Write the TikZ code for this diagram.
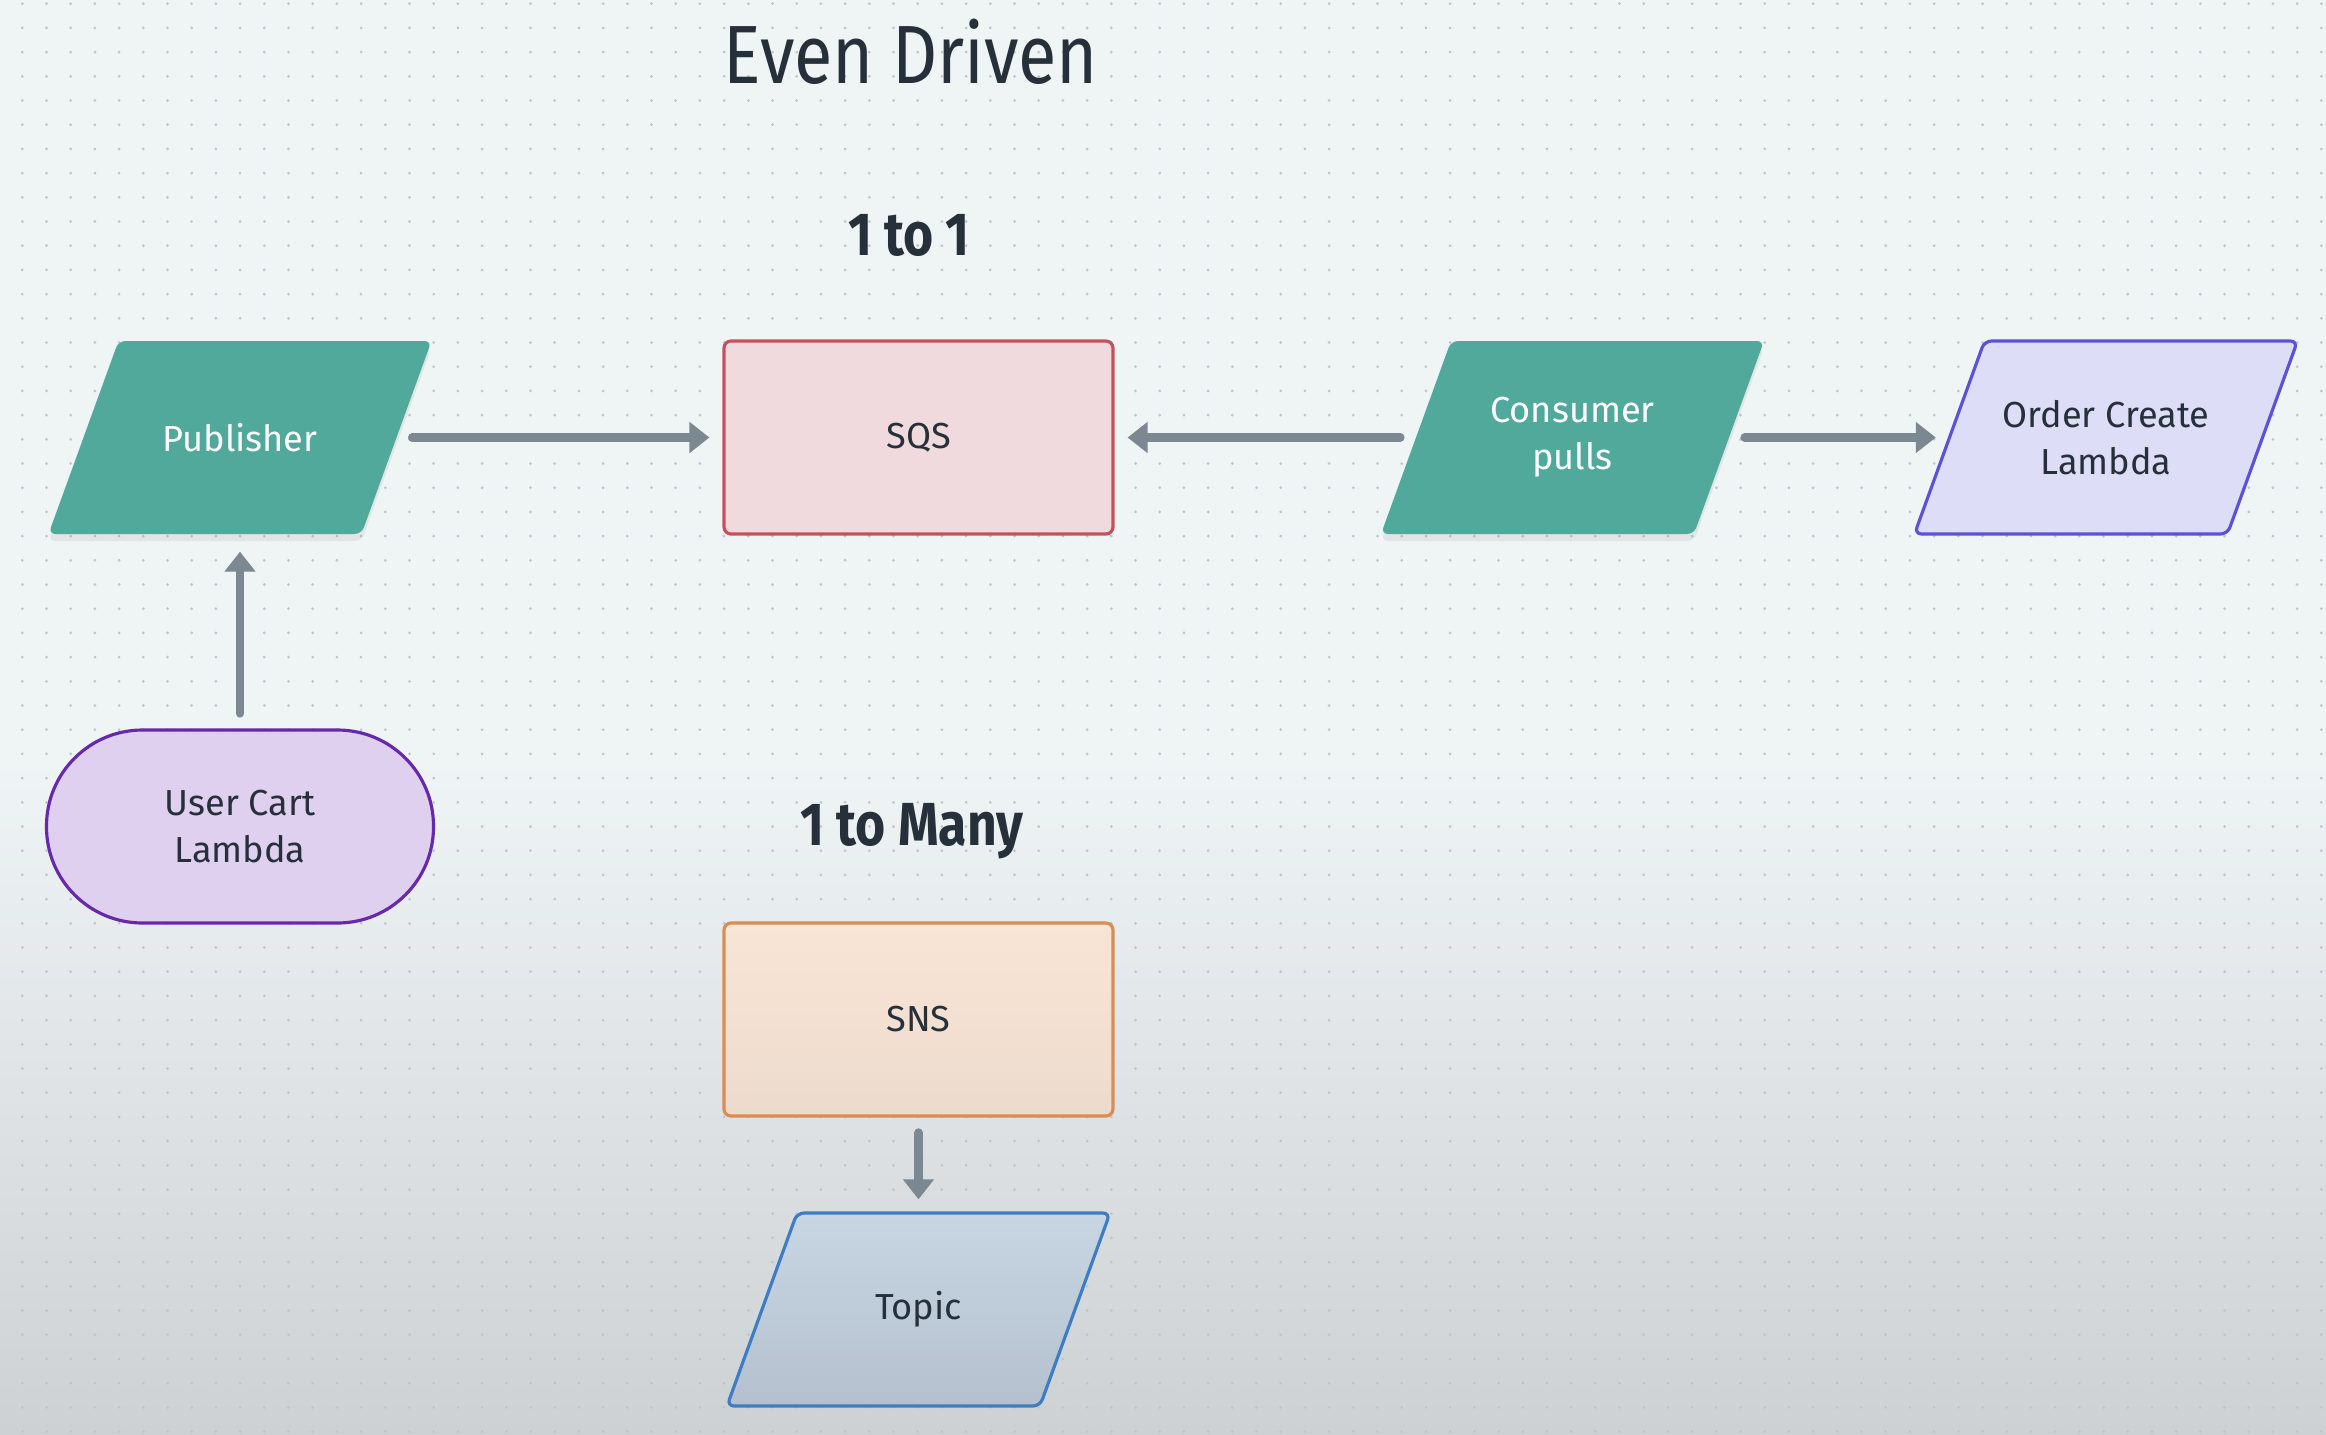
\documentclass[tikz,border=0pt]{standalone}
\usepackage{fontspec}
\setmainfont{Fira Sans}
\newfontfamily\headfont{Fira Sans}[FakeStretch=0.85]
\usetikzlibrary{arrows.meta,shadows}

% 颜色
\definecolor{bgtop}{RGB}{239,244,245}
\definecolor{bgbot}{RGB}{206,209,212}
\definecolor{dotc}{RGB}{190,195,205}
\definecolor{txt}{RGB}{38,48,58}
\definecolor{tealbox}{RGB}{80,169,155}
\definecolor{arrowgray}{RGB}{123,135,145}
\definecolor{sqsfill}{RGB}{240,218,221}
\definecolor{sqsline}{RGB}{200,80,92}
\definecolor{ordfill}{RGB}{222,221,248}
\definecolor{ordline}{RGB}{92,82,214}
\definecolor{cartfill}{RGB}{224,208,240}
\definecolor{cartline}{RGB}{102,40,172}
\definecolor{snstop}{RGB}{249,229,214}
\definecolor{snsbot}{RGB}{236,219,205}
\definecolor{snsline}{RGB}{218,140,82}
\definecolor{toptop}{RGB}{200,214,228}
\definecolor{topbot}{RGB}{180,192,206}
\definecolor{topline}{RGB}{60,125,195}

% 平行四边形 (#1 中心, #2 样式)
\newcommand{\parashape}[2]{%
    \path[#2, rounded corners=2pt, shift={(#1)}]
        (-1.915,-0.965) -- (1.215,-0.965) -- (1.915,0.965) -- (-1.215,0.965) -- cycle;}

\begin{document}
\begin{tikzpicture}[
    para/.style={rectangle, minimum width=3.13cm, minimum height=1.93cm,
        align=center, text=txt, font=\fontsize{10.3}{13.4}\selectfont},
    box/.style={rectangle, minimum width=3.89cm, minimum height=1.93cm,
        rounded corners=2pt, line width=0.9pt, text=txt,
        font=\fontsize{10.3}{13.4}\selectfont},
    shadowed/.style={drop shadow={shadow xshift=0pt, shadow yshift=-2pt, opacity=0.12}},
    conn/.style={draw=arrowgray, line width=0.085cm, line cap=round,
        -{Triangle[length=0.2cm, width=0.3cm]},
        shorten <=0.15cm, shorten >=0.13cm}
]
    % 背景和点阵
    \useasboundingbox (0,0) rectangle (23.26,-14.34);
    \fill[bgtop] (0,0) rectangle (23.26,-14.34);
    \shade[top color=bgtop, bottom color=bgbot] (0,-7.6) rectangle (23.26,-14.34);
    \foreach \r in {0,...,59} {
        \draw[dotc, line width=0.03cm, line cap=round, dash pattern=on 0pt off 0.242cm]
            (0.223,-0.037-0.242*\r) -- (23.26,-0.037-0.242*\r);
    }

    % 标题
    \node[anchor=base, text=txt, font=\headfont\fontsize{23.5}{28}\selectfont] (title) at (9.11,-0.83) {Even Driven};
    \node[anchor=base, text=txt, font=\headfont\bfseries\fontsize{17.3}{20}\selectfont] (onetoone) at (9.09,-2.55) {1 to 1};
    \node[anchor=base, text=txt, font=\headfont\bfseries\fontsize{17.3}{20}\selectfont] (onetomany) at (9.12,-8.45) {1 to Many};

    % 第一行: 1 to 1
    \parashape{2.40,-4.375}{shadowed, fill=tealbox}
    \node[para, text=white] (pub) at (2.40,-4.375) {Publisher};
    \node[box, draw=sqsline, fill=sqsfill] (sqs) at (9.185,-4.375) {SQS};
    \parashape{15.725,-4.375}{shadowed, fill=tealbox}
    \node[para, text=white] (cons) at (15.725,-4.375) {Consumer\\pulls};
    \parashape{21.06,-4.375}{draw=ordline, fill=ordfill, line width=0.9pt}
    \node[para] (order) at (21.06,-4.375) {Order Create\\Lambda};

    % 左下
    \node[rectangle, rounded corners=0.96cm, minimum width=3.87cm, minimum height=1.93cm, align=center,
        draw=cartline, fill=cartfill, line width=0.9pt, text=txt,
        font=\fontsize{10.3}{13.4}\selectfont] (cart) at (2.40,-8.265) {User Cart\\Lambda};

    % 第二组: 1 to Many
    \node[box, draw=snsline, top color=snstop, bottom color=snsbot] (sns) at (9.185,-10.195) {SNS};
    \parashape{9.185,-13.095}{draw=topline, top color=toptop, bottom color=topbot, line width=0.9pt}
    \node[para] (topic) at (9.185,-13.095) {Topic};

    % 箭头
    \draw[conn] (pub) -- (sqs);
    \draw[conn] (cons) -- (sqs);
    \draw[conn] (cons) -- (order);
    \draw[conn, shorten >=0.17cm] (cart) -- (pub);
    \draw[conn] (sns) -- (topic);
\end{tikzpicture}
\end{document}
